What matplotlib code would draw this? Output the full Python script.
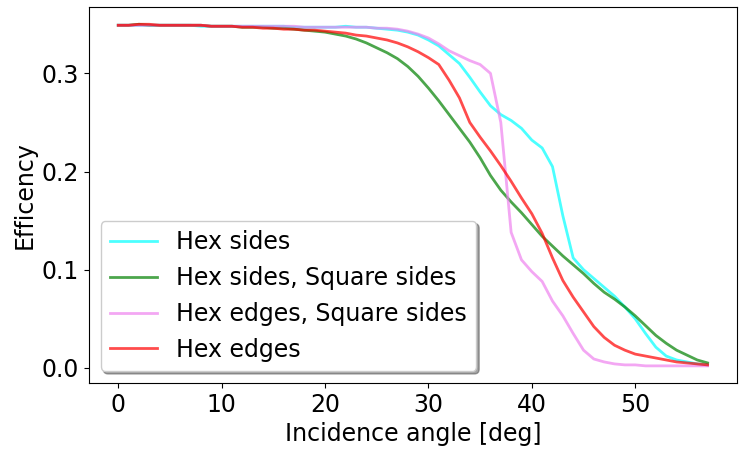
import numpy as np
import matplotlib
matplotlib.use("Agg")
import matplotlib.pyplot as plt

angles = np.arange(0, 58)

hex_sides = [0.349, 0.349, 0.349, 0.349, 0.349, 0.349, 0.349, 0.349, 0.348, 0.348,
             0.348, 0.348, 0.348, 0.348, 0.348, 0.348, 0.348, 0.347, 0.347, 0.347,
             0.347, 0.347, 0.348, 0.347, 0.347, 0.346, 0.345, 0.344, 0.342, 0.339,
             0.334, 0.328, 0.319, 0.310, 0.296, 0.281, 0.267, 0.258, 0.252, 0.244,
             0.232, 0.224, 0.205, 0.155, 0.112, 0.100, 0.091, 0.082, 0.073, 0.062,
             0.050, 0.035, 0.021, 0.012, 0.008, 0.006, 0.004, 0.003]

hex_sides_square = [0.349, 0.349, 0.350, 0.349, 0.349, 0.349, 0.349, 0.349, 0.349, 0.348,
                    0.348, 0.348, 0.347, 0.347, 0.347, 0.346, 0.346, 0.345, 0.344, 0.343,
                    0.342, 0.340, 0.338, 0.335, 0.331, 0.326, 0.321, 0.315, 0.307, 0.297,
                    0.285, 0.272, 0.258, 0.244, 0.230, 0.214, 0.196, 0.181, 0.169, 0.158,
                    0.146, 0.134, 0.124, 0.114, 0.105, 0.096, 0.086, 0.077, 0.070, 0.062,
                    0.053, 0.043, 0.033, 0.025, 0.018, 0.013, 0.008, 0.005]

hex_edges_square = [0.349, 0.349, 0.349, 0.349, 0.349, 0.349, 0.349, 0.349, 0.349, 0.348,
                    0.348, 0.348, 0.348, 0.348, 0.348, 0.348, 0.348, 0.348, 0.347, 0.347,
                    0.347, 0.347, 0.347, 0.347, 0.347, 0.346, 0.346, 0.345, 0.343, 0.340,
                    0.336, 0.330, 0.323, 0.318, 0.313, 0.309, 0.300, 0.250, 0.138, 0.110,
                    0.098, 0.088, 0.068, 0.053, 0.035, 0.018, 0.009, 0.006, 0.004, 0.003,
                    0.003, 0.002, 0.002, 0.002, 0.002, 0.002, 0.002, 0.002]

hex_edges = [0.349, 0.349, 0.350, 0.350, 0.349, 0.349, 0.349, 0.349, 0.349, 0.348,
             0.348, 0.348, 0.347, 0.347, 0.346, 0.346, 0.345, 0.345, 0.344, 0.344,
             0.343, 0.342, 0.341, 0.339, 0.338, 0.336, 0.334, 0.331, 0.327, 0.322,
             0.316, 0.309, 0.293, 0.275, 0.250, 0.235, 0.221, 0.206, 0.190, 0.173,
             0.157, 0.137, 0.112, 0.089, 0.072, 0.057, 0.042, 0.031, 0.023, 0.018,
             0.014, 0.012, 0.010, 0.008, 0.006, 0.005, 0.004, 0.003]

plt.rcParams["font.size"] = 17

fig = plt.figure(figsize=(7.4, 4.5), dpi=100)
ax = fig.add_axes([0.120, 0.149, 0.876, 0.835])

ax.plot(angles, hex_sides, color="aqua", alpha=0.7, lw=2, label="Hex sides")
ax.plot(angles, hex_sides_square, color="green", alpha=0.7, lw=2, label="Hex sides, Square sides")
ax.plot(angles, hex_edges_square, color="violet", alpha=0.7, lw=2, label="Hex edges, Square sides")
ax.plot(angles, hex_edges, color="red", alpha=0.7, lw=2, label="Hex edges")

ax.set_xlabel("Incidence angle [deg]")
ax.set_ylabel("Efficency")
ax.set_yticks([0.0, 0.1, 0.2, 0.3])
ax.legend(loc="lower left", shadow=True)

fig.savefig("out.png", dpi=100)
